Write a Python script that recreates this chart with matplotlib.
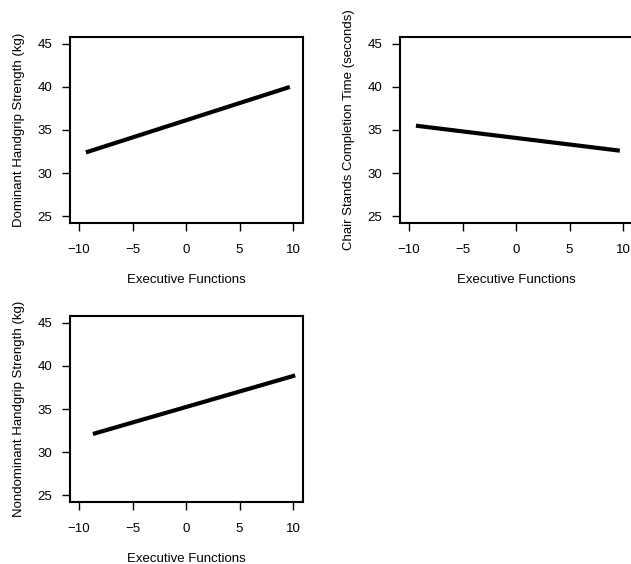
import matplotlib
matplotlib.use("Agg")
import matplotlib.pyplot as plt

plt.rcParams['font.family'] = ['Liberation Sans', 'DejaVu Sans']

x_label = "Executive Functions"
y_labels = ["Dominant Handgrip Strength (kg)",
            "Chair Stands Completion Time (seconds)",
            "Nondominant Handgrip Strength (kg)"]
x_ranges = [[-9.35, 9.7], [-9.35, 9.7], [-8.7, 10.2]]
y_values = [[32.4, 40.0], [35.5, 32.6], [32.1, 38.9]]
x_ticks = [-10, -5, 0, 5, 10]
y_ticks = [25, 30, 35, 40, 45]

fig = plt.figure(figsize=(6.31, 5.64), dpi=100)
W, H = 631, 564
positions = [(70, 37), (400, 37), (70, 316)]
aw, ah = 233, 186
fs = 9.5

for (px, py), xs, ys, yl in zip(positions, x_ranges, y_values, y_labels):
    ax = fig.add_axes([px / W, 1 - (py + ah) / H, aw / W, ah / H])
    ax.plot(xs, ys, color='black', lw=3, solid_capstyle='butt')
    ax.set_xlim(-10.84, 10.93)
    ax.set_ylim(24.2, 45.8)
    ax.set_xticks(x_ticks)
    ax.set_xticklabels(["\u221210", "\u22125", "0", "5", "10"])
    ax.set_yticks(y_ticks)
    ax.tick_params(axis='x', direction='out', length=6, width=1, labelsize=fs, pad=9)
    ax.tick_params(axis='y', direction='out', length=6, width=1, labelsize=fs, pad=7)
    for s in ax.spines.values():
        s.set_linewidth(1.5)
    ax.set_xlabel(x_label, fontsize=fs, labelpad=13)
    ax.set_ylabel(yl, fontsize=fs, labelpad=9)

fig.savefig("out.png", dpi=100)
